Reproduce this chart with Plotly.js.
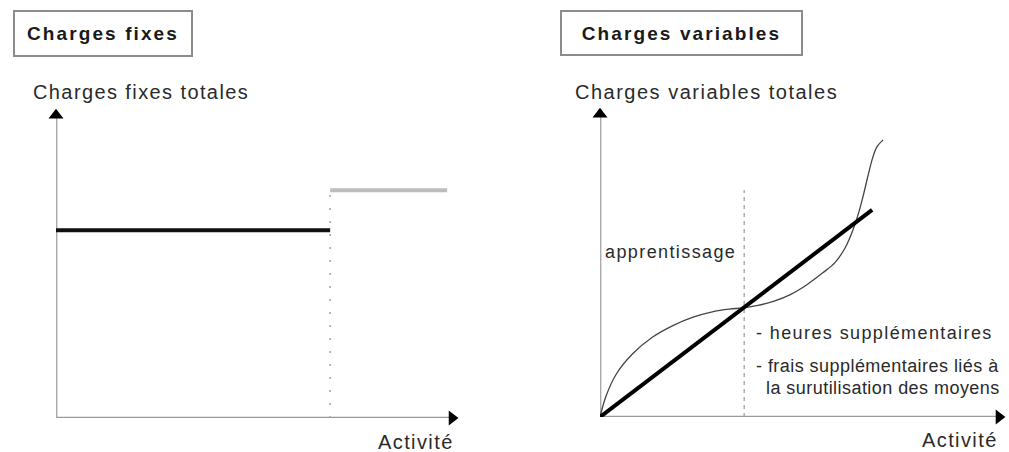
<!DOCTYPE html>
<html>
<head>
<meta charset="utf-8">
<script src="https://cdn.plot.ly/plotly-3.0.1.min.js"></script>
<style>
html,body{margin:0;padding:0;background:#fff;}
#chart{width:1009px;height:452px;}
</style>
</head>
<body>
<div id="chart"></div>
<script>
// ---- Data (arbitrary activity / cost units) ----
const axisEndX = 9.85;          // arrow position on activity axis
const axisEndY = 9.77;          // arrow position on cost axis

// Fixed costs panel
const fixedX = [0, 6.82];        // first capacity level
const fixedY = [6.06, 6.06];
const fixedStepX = [6.82, 9.73]; // after capacity jump
const fixedStepY = [7.35, 7.35];
const capacityX = [6.82, 6.82];
const capacityY = [0, 7.2];

// Variable costs panel
const varLineX = [0, 6.72];
const varLineY = [0, 6.68];
const curveX = [0, 0.15, 0.4, 0.8, 1.3, 1.8, 2.3, 2.8, 3.2, 3.53, 3.9, 4.3, 4.7, 5.1, 5.5, 5.8, 6.05, 6.25, 6.4, 6.52, 6.63, 6.73, 6.84, 6.99];
const curveY = [0, 0.68, 1.38, 2.03, 2.58, 2.95, 3.22, 3.4, 3.48, 3.52, 3.6, 3.74, 3.95, 4.26, 4.65, 4.98, 5.45, 6.05, 6.65, 7.25, 7.85, 8.35, 8.72, 8.94];
const learningX = [3.56, 3.56];
const learningY = [0, 7.32];

// Texts
const titleLeft = "Charges fixes";
const titleRight = "Charges variables";
const yLabelLeft = "Charges fixes totales";
const yLabelRight = "Charges variables totales";
const xLabel = "Activité";
const learningLabel = "apprentissage";
const overLabels = ["- heures supplémentaires", "- frais supplémentaires liés à", "la surutilisation des moyens"];

const W = 1009, H = 452;
const px = v => v / W;
const py = v => 1 - v / H;

const axisColor = "#9a9a9a";
const textColor = "#2a2a2a";
const FONT = "Liberation Sans, Arial, sans-serif";

function axisTraces(xa, ya) {
  return [
    {x: [0, axisEndX], y: [0, 0], xaxis: xa, yaxis: ya, mode: "lines",
     line: {color: axisColor, width: 2.5}, hoverinfo: "skip", cliponaxis: false},
    {x: [0, 0], y: [0, axisEndY], xaxis: xa, yaxis: ya, mode: "lines",
     line: {color: "#aaaaaa", width: 2.8}, hoverinfo: "skip", cliponaxis: false},
    {x: [axisEndX], y: [0], xaxis: xa, yaxis: ya, mode: "markers",
     marker: {symbol: "triangle-right", size: 13, color: "#000"}, hoverinfo: "skip", cliponaxis: false},
    {x: [0], y: [axisEndY], xaxis: xa, yaxis: ya, mode: "markers",
     marker: {symbol: "triangle-up", size: 13, color: "#000"}, hoverinfo: "skip", cliponaxis: false}
  ];
}

const traces = [
  ...axisTraces("x", "y"),
  {x: capacityX, y: capacityY, xaxis: "x", yaxis: "y", mode: "lines",
   line: {color: "#a8a8a8", width: 1.6, dash: "2px,11px"}, hoverinfo: "skip"},
  {x: fixedX, y: fixedY, xaxis: "x", yaxis: "y", mode: "lines",
   line: {color: "#111", width: 4}, hoverinfo: "skip"},
  {x: fixedStepX, y: fixedStepY, xaxis: "x", yaxis: "y", mode: "lines",
   line: {color: "#bdbdbd", width: 4}, hoverinfo: "skip"},
  ...axisTraces("x2", "y2"),
  {x: learningX, y: learningY, xaxis: "x2", yaxis: "y2", mode: "lines",
   line: {color: "#a8a8a8", width: 1.4, dash: "4px,4px"}, hoverinfo: "skip"},
  {x: curveX, y: curveY, xaxis: "x2", yaxis: "y2", mode: "lines",
   line: {color: "#444", width: 1.3, shape: "spline", smoothing: 1}, hoverinfo: "skip", cliponaxis: false},
  {x: varLineX, y: varLineY, xaxis: "x2", yaxis: "y2", mode: "lines",
   line: {color: "#000", width: 4}, hoverinfo: "skip"}
];

const hidden = {visible: false, fixedrange: true};

function label(text, x, y, size, opts) {
  return Object.assign({
    text: text, xref: "paper", yref: "paper", x: px(x), y: py(y),
    xanchor: "left", yanchor: "middle", align: "left", showarrow: false,
    font: {family: FONT, size: size, color: textColor}
  }, opts || {});
}

const annotations = [
  label("<b>" + titleLeft + "</b>", 13, 33.5, 19, {width: 176, height: 43, align: "center",
        bordercolor: "#8c8c8c", borderwidth: 2, borderpad: 0, xanchor: "left",
        font: {family: FONT, size: 19, color: "#1a1a1a", weight: 700}}),
  label("<b>" + titleRight + "</b>", 560, 33, 19, {width: 239, height: 42, align: "center",
        bordercolor: "#8c8c8c", borderwidth: 2, borderpad: 0, xanchor: "left",
        font: {family: FONT, size: 19, color: "#1a1a1a", weight: 700}}),
  label(yLabelLeft, 31, 92, 20),
  label(yLabelRight, 573, 92, 20),
  label(xLabel, 376, 442, 20),
  label(xLabel, 920, 440, 20),
  label(learningLabel, 603, 252, 18),
  label(overLabels[0], 754, 333, 18),
  label(overLabels[1], 754, 366, 18),
  label(overLabels[2], 764, 388, 18)
];
// letter spacing (px) of each annotation, same order
const letterSpacing = [2.1, 2.1, 1.4, 1.5, 1.4, 1.4, 1.4, 1.4, 0.45, 0.45];

const layout = {
  width: W, height: H,
  margin: {l: 0, r: 0, t: 0, b: 0},
  paper_bgcolor: "#fff", plot_bgcolor: "rgba(0,0,0,0)",
  showlegend: false,
  xaxis: Object.assign({domain: [px(56), px(458)], range: [0, 10]}, hidden),
  yaxis: Object.assign({domain: [py(418), py(108)], range: [0, 10]}, hidden),
  xaxis2: Object.assign({domain: [px(600), px(1005)], range: [0, 10], anchor: "y2"}, hidden),
  yaxis2: Object.assign({domain: [py(417), py(107)], range: [0, 10], anchor: "x2"}, hidden),
  annotations: annotations
};

Plotly.newPlot("chart", traces, layout, {staticPlot: true, displayModeBar: false}).then(gd => {
  gd.querySelectorAll("g.annotation").forEach(g => {
    const i = +g.getAttribute("data-index");
    const t = g.querySelector("text.annotation-text");
    if (t && letterSpacing[i] != null) t.style.letterSpacing = letterSpacing[i] + "px";
  });
});
</script>
</body>
</html>
